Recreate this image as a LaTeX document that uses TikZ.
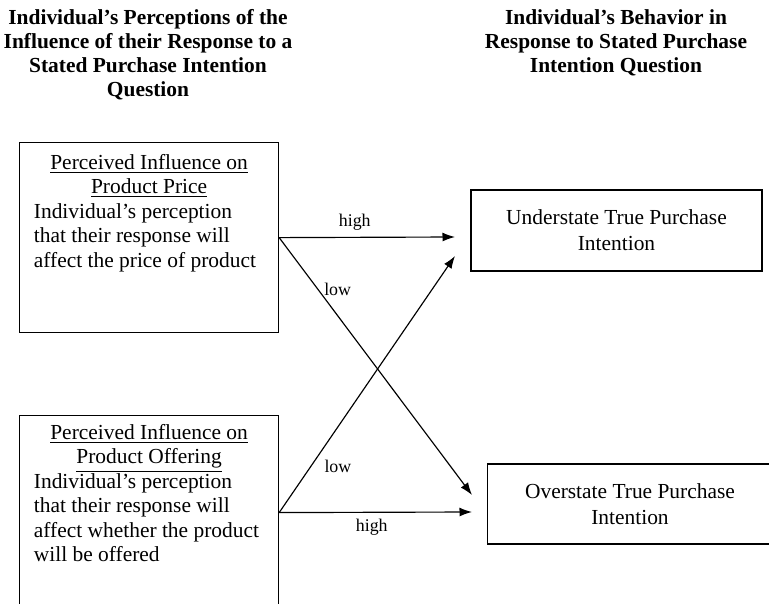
\documentclass[tikz,border=0pt]{standalone}
\usepackage{fontspec}
\setmainfont{Liberation Serif}
\usetikzlibrary{arrows.meta}

\begin{document}
\begin{tikzpicture}[
    x=0.56pt, y=-0.56pt,
    box/.style={draw=black, line width=0.7pt, inner sep=0pt},
    outcome/.style={box, align=center, font=\fontsize{12}{14.5}\selectfont},
    body/.style={anchor=north, inner sep=0pt, text width=129pt, align=flush left, font=\fontsize{12}{13.7}\selectfont},
    heading/.style={anchor=north, inner sep=0pt, align=center, font=\fontsize{12}{13.4}\selectfont\bfseries},
    lbl/.style={font=\fontsize{10}{12}\selectfont},
    arr/.style={-{Latex[length=7pt, width=5pt]}, line width=0.65pt}
]
    \useasboundingbox (0,0) rectangle (769,604);
    \clip (0,0) rectangle (769,604);

    % column headings
    \node[heading] at (148,9) (lefthead) {Individual's Perceptions of the\\Influence of their Response to a\\Stated Purchase Intention\\Question};
    \node[heading] at (616,9) (righthead) {Individual's Behavior in\\Response to Stated Purchase\\Intention Question};

    % perception boxes
    \node[box, minimum width=145pt, minimum height=106.4pt, anchor=north west] at (19,142) (price) {};
    \node[body] at ([yshift=-6.7pt]price.north) (pricetxt) {{\centering\underline{Perceived Influence on}\\\underline{Product Price}\par}
        Individual's perception\\
        that their response will\\
        affect the price of product};

    \node[box, minimum width=145pt, minimum height=108.6pt, anchor=north west] at (19,415) (offer) {};
    \node[body] at ([yshift=-5pt]offer.north) (offertxt) {{\centering\underline{Perceived Influence on}\\\underline{Product Offering}\par}
        Individual's perception\\
        that their response will\\
        affect whether the product\\
        will be offered};

    % behaviour boxes
    \node[outcome, minimum width=163pt, minimum height=45.4pt] at (616.5,230.5) (under) {Understate True Purchase\\Intention};
    \node[outcome, minimum width=160pt, minimum height=44.8pt] at (630,504) (over) {Overstate True Purchase\\Intention};

    \coordinate (uhigh) at (455,237);
    \coordinate (ulow) at (455,256);
    \coordinate (olow) at (472,495);
    \coordinate (ohigh) at (472,512);

    \draw[arr] (price.east) -- node[lbl, above, pos=0.43] (pricehigh) {high} (uhigh);
    \draw[arr] (price.east) -- node[lbl, right, pos=0.2] (pricelow) {low} (olow);
    \draw[arr] (offer.east) -- node[lbl, right, pos=0.18, xshift=4pt] (offerlow) {low} (ulow);
    \draw[arr] (offer.east) -- node[lbl, below, pos=0.48] (offerhigh) {high} (ohigh);
\end{tikzpicture}
\end{document}
